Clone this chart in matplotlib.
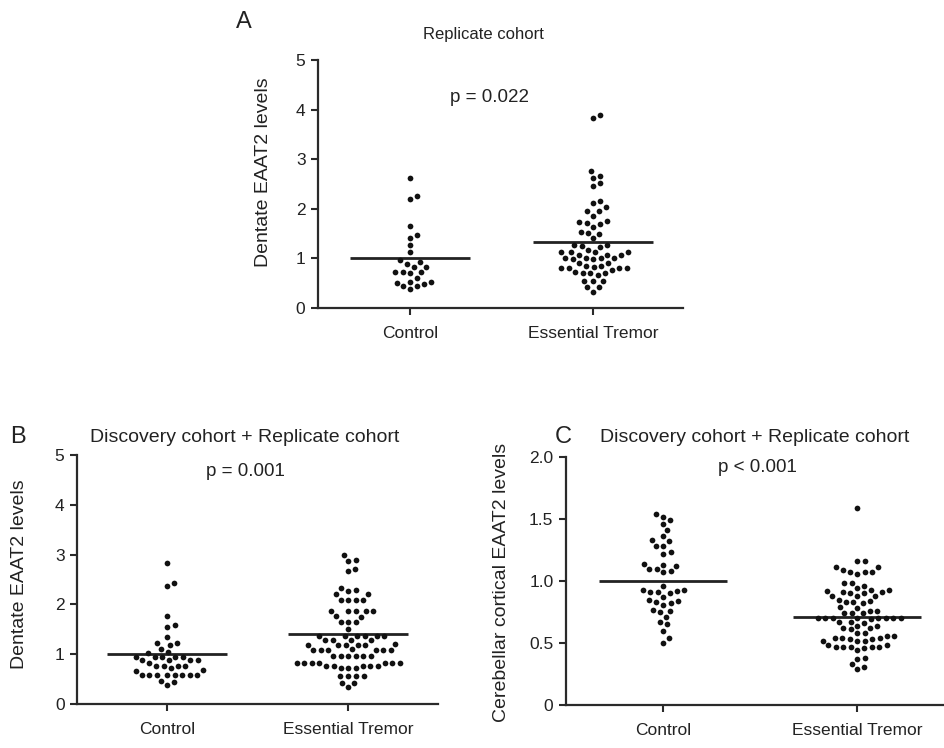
import numpy as np
import matplotlib
matplotlib.use('Agg')
import matplotlib.pyplot as plt

plt.rcParams['font.family'] = ['Liberation Sans', 'DejaVu Sans']

# ---------------- data ----------------
categories = ['Control', 'Essential Tremor']

a_title = 'Replicate cohort'
a_pvalue = 'p = 0.022'
a_control = [2.63, 2.26, 2.20, 1.66, 1.47, 1.42, 1.27, 1.12, 0.97, 0.92, 0.89,
             0.83, 0.83, 0.72, 0.72, 0.72, 0.70, 0.60, 0.53, 0.53, 0.51, 0.48,
             0.44, 0.44, 0.38]
a_et = [3.90, 3.83, 2.77, 2.67, 2.63, 2.52, 2.45, 2.16, 2.11, 2.03, 1.95, 1.95,
        1.86, 1.75, 1.73, 1.72, 1.70, 1.64, 1.54, 1.52, 1.50, 1.41, 1.27, 1.27,
        1.24, 1.23, 1.17, 1.12, 1.12, 1.12, 1.12, 1.07, 1.07, 1.07, 1.00, 1.00,
        1.00, 1.00, 0.98, 0.98, 0.91, 0.91, 0.85, 0.85, 0.80, 0.80, 0.80, 0.80,
        0.83, 0.77, 0.73, 0.71, 0.71, 0.70, 0.67, 0.55, 0.55, 0.55, 0.42, 0.42,
        0.33]
a_means = [1.00, 1.33]

b_title = 'Discovery cohort + Replicate cohort'
b_pvalue = 'p = 0.001'
b_control = [2.84, 2.43, 2.37, 1.77, 1.58, 1.55, 1.35, 1.23, 1.23, 1.19, 1.10,
             1.05, 1.02, 0.95, 0.95, 0.95, 0.95, 0.95, 0.88, 0.88, 0.88, 0.88,
             0.82, 0.77, 0.77, 0.77, 0.77, 0.72, 0.69, 0.67, 0.59, 0.59, 0.59,
             0.59, 0.59, 0.59, 0.59, 0.59, 0.47, 0.44, 0.39]
b_et = [2.99, 2.89, 2.87, 2.72, 2.67, 2.32, 2.29, 2.27, 2.21, 2.21,
        2.09, 2.09, 2.09, 2.09, 1.87, 1.87, 1.87, 1.87, 1.87, 1.77, 1.75, 1.65,
        1.65, 1.65, 1.50, 1.36, 1.36, 1.36, 1.36, 1.36, 1.36, 1.28, 1.28, 1.28,
        1.28, 1.20, 1.18, 1.18, 1.18, 1.18, 1.18, 1.10, 1.08, 1.08, 1.08, 1.08,
        1.08, 1.08, 0.97, 0.97, 0.97, 0.97, 0.97, 0.97, 0.83, 0.83, 0.83, 0.83,
        0.83, 0.83, 0.83, 0.77, 0.77, 0.77, 0.77, 0.77, 0.72, 0.72, 0.72, 0.57,
        0.57, 0.57, 0.57, 0.43, 0.43, 0.35]
b_means = [1.00, 1.40]

c_title = 'Discovery cohort + Replicate cohort'
c_pvalue = 'p < 0.001'
c_control = [1.54, 1.52, 1.49, 1.46, 1.41, 1.36, 1.32, 1.33, 1.28, 1.28, 1.23,
             1.22, 1.14, 1.12, 1.10, 1.13, 1.10, 1.08, 1.07, 0.93, 0.92, 0.91,
             0.90, 0.91, 0.93, 0.96, 0.85, 0.83, 0.81, 0.82, 0.84, 0.87, 0.76,
             0.75, 0.77, 0.71, 0.67, 0.65, 0.60, 0.54, 0.50]
c_et = [1.59, 1.16, 1.16, 1.11, 1.09, 1.07, 1.06, 1.07, 1.07, 1.11, 0.98, 0.96,
        0.94, 0.98, 0.93, 0.91, 0.90, 0.88, 0.88, 0.88, 0.90, 0.91, 0.92, 0.93,
        0.85, 0.83, 0.82, 0.83, 0.84, 0.79, 0.76, 0.74, 0.74, 0.76, 0.78, 0.70,
        0.70, 0.69, 0.70, 0.67, 0.66, 0.70, 0.67, 0.70, 0.70, 0.70, 0.70, 0.64,
        0.62, 0.61, 0.62, 0.64, 0.58, 0.56, 0.54, 0.53, 0.52, 0.52, 0.52, 0.53,
        0.54, 0.54, 0.56, 0.58, 0.48, 0.47, 0.47, 0.46, 0.47, 0.47, 0.47, 0.48,
        0.44, 0.38, 0.37, 0.33, 0.31, 0.29, 0.74]
c_means = [1.00, 0.71]

ab_yticks = [0, 1, 2, 3, 4, 5]
c_yticks = [0, 0.5, 1.0, 1.5, 2.0]
c_yticklabels = ['0', '0.5', '1.0', '1.5', '2.0']
ab_ylabel = 'Dentate EAAT2 levels'
c_ylabel = 'Cerebellar cortical EAAT2 levels'

# ---------------- layout ----------------
W, H = 944, 748
DPI = 100
fig = plt.figure(figsize=(W / DPI, H / DPI), dpi=DPI)
TXT = '#222222'
AX = '#2a2a2a'


def add_ax(left, right, top, bottom):
    return fig.add_axes([left / W, 1 - bottom / H, (right - left) / W,
                         (bottom - top) / H])


def px_text(x, y, s, **kw):
    return fig.text(x / W, 1 - y / H, s, **kw)


def swarm(values, ppu_x, ppu_y, d=7.2):
    vals = np.asarray(values, float)
    order = np.argsort(vals)
    placed_x, placed_y = [], []
    xs = np.zeros(len(vals))
    cands = np.arange(0, 200, 0.5)
    for i in order:
        y = vals[i] * ppu_y
        px_ = np.array(placed_x)
        py_ = np.array(placed_y)
        chosen = 0.0
        for c in cands:
            found = False
            for s in ([c] if c == 0 else [c, -c]):
                if len(px_) == 0 or np.all((s - px_) ** 2 + (y - py_) ** 2 >= d * d):
                    chosen = s
                    found = True
                    break
            if found:
                break
        placed_x.append(chosen)
        placed_y.append(y)
        xs[i] = chosen / ppu_x
    return xs


def panel(box, ticks_px, ylim, yticks, yticklabels, ylabel, ylabel_xy,
          groups, means):
    left, right, top, bottom = box
    p0, p1 = ticks_px
    ppu = p1 - p0
    ax = add_ax(left, right, top, bottom)
    ax.set_xlim((left - p0) / ppu, (right - p0) / ppu)
    ax.set_ylim(*ylim)
    fig.canvas.draw()
    t = ax.transData
    ppu_x = t.transform((1, 0))[0] - t.transform((0, 0))[0]
    ppu_y = t.transform((0, 1))[1] - t.transform((0, 0))[1]
    for k, vals in enumerate(groups):
        offs = swarm(vals, ppu_x, ppu_y)
        ax.scatter(k + offs, vals, s=17, color='#111111', linewidths=0,
                   zorder=3, clip_on=False)
    for k, m in enumerate(means):
        ax.plot([k - 0.33, k + 0.33], [m, m], color='#222222', lw=2.0,
                solid_capstyle='butt', zorder=2)
    for sp in ['top', 'right']:
        ax.spines[sp].set_visible(False)
    for sp in ['left', 'bottom']:
        ax.spines[sp].set_linewidth(1.6)
        ax.spines[sp].set_color(AX)
    ax.set_xticks([0, 1])
    ax.set_xticklabels(categories, fontsize=12.5, color=TXT)
    ax.set_yticks(yticks)
    ax.set_yticklabels(yticklabels, fontsize=12.5, color=TXT)
    ax.tick_params(axis='both', direction='out', length=5, width=1.5,
                   color=AX, pad=4)
    ax.tick_params(axis='x', pad=8)
    lx, ly = ylabel_xy
    px_text(lx, ly, ylabel, fontsize=14, color=TXT, rotation=90,
            ha='center', va='center')
    return ax


axA = panel((318, 683, 60, 308), (410, 593), (0, 5), ab_yticks,
            [str(v) for v in ab_yticks], ab_ylabel, (263, 172),
            [a_control, a_et], a_means)
axB = panel((77, 438, 455, 704), (167, 348), (0, 5), ab_yticks,
            [str(v) for v in ab_yticks], ab_ylabel, (20, 574),
            [b_control, b_et], b_means)
axC = panel((566, 944, 457, 705), (663, 857), (0, 2.0), c_yticks,
            c_yticklabels, c_ylabel, (502, 582), [c_control, c_et], c_means)

# titles / annotations
px_text(236, 22, 'A', fontsize=17, color=TXT, ha='left', va='center')
px_text(483, 34, a_title, fontsize=12, color=TXT, ha='center', va='center')
px_text(490, 97, a_pvalue, fontsize=13.5, color=TXT, ha='center', va='center')

px_text(10, 437, 'B', fontsize=17, color=TXT, ha='left', va='center')
px_text(245, 437, b_title, fontsize=14, color=TXT, ha='center', va='center')
px_text(245, 471, b_pvalue, fontsize=13.5, color=TXT, ha='center', va='center')

px_text(555, 437, 'C', fontsize=17, color=TXT, ha='left', va='center')
px_text(755, 437, c_title, fontsize=14, color=TXT, ha='center', va='center')
px_text(757, 468, c_pvalue, fontsize=13.5, color=TXT, ha='center', va='center')

fig.savefig('out.png', dpi=DPI)
